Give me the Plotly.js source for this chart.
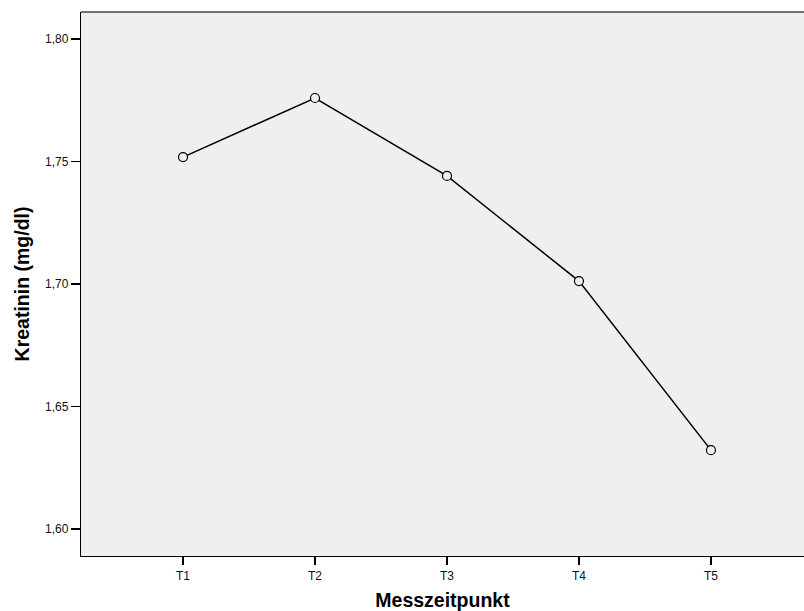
<!DOCTYPE html>
<html>
<head>
<meta charset="utf-8">
<script src="https://cdn.plot.ly/plotly-3.0.1.min.js"></script>
<style>html,body{margin:0;padding:0;background:#fff}#chart{width:804px;height:611px}</style>
</head>
<body>
<div id="chart"></div>
<script>
const categories = ["T1", "T2", "T3", "T4", "T5"];
const kreatinin = [1.7518, 1.7759, 1.7441, 1.7012, 1.6322];
const yTicks = [1.60, 1.65, 1.70, 1.75, 1.80];
const xTitle = "Messzeitpunkt";
const yTitle = "Kreatinin (mg/dl)";

const trace = {
  x: categories,
  y: kreatinin,
  type: "scatter",
  mode: "lines+markers",
  line: {color: "#000000", width: 1.5},
  marker: {symbol: "circle", size: 9, color: "#efefef", line: {color: "#000000", width: 1.2}},
  hoverinfo: "skip"
};

const layout = {
  width: 804, height: 611,
  margin: {l: 81, r: 0, t: 12, b: 55},
  paper_bgcolor: "#ffffff",
  plot_bgcolor: "#efefef",
  showlegend: false,
  separators: ",.",
  font: {family: "Liberation Sans, Arial, sans-serif", color: "#000000", size: 12},
  xaxis: {
    type: "category",
    range: [-0.773, 4.705],
    showgrid: false, zeroline: false,
    showline: true, linecolor: "#000000", linewidth: 1.2,
    ticks: "outside", ticklen: 8, tickwidth: 1.2, tickcolor: "#000000",
    tickfont: {size: 12, color: "#111111"},
    title: {text: xTitle, font: {size: 19.5, color: "#000000", family: "Liberation Sans, Arial, sans-serif", weight: "bold"}, standoff: 12}
  },
  yaxis: {
    range: [1.5890, 1.8110],
    tickvals: yTicks,
    tickformat: ".2f",
    showgrid: false, zeroline: false,
    showline: true, linecolor: "#000000", linewidth: 1.2,
    ticks: "outside", ticklen: 9, tickwidth: 1.2, tickcolor: "#000000",
    tickfont: {size: 12, color: "#111111"},
    title: {text: yTitle, font: {size: 19.5, color: "#000000", family: "Liberation Sans, Arial, sans-serif", weight: "bold"}, standoff: 10}
  },
  shapes: [{
    type: "line", xref: "paper", yref: "paper", x0: 0, x1: 1, y0: 1, y1: 1,
    line: {color: "#444444", width: 1.5}
  }]
};

Plotly.newPlot("chart", [trace], layout, {displayModeBar: false, staticPlot: true});
</script>
</body>
</html>
